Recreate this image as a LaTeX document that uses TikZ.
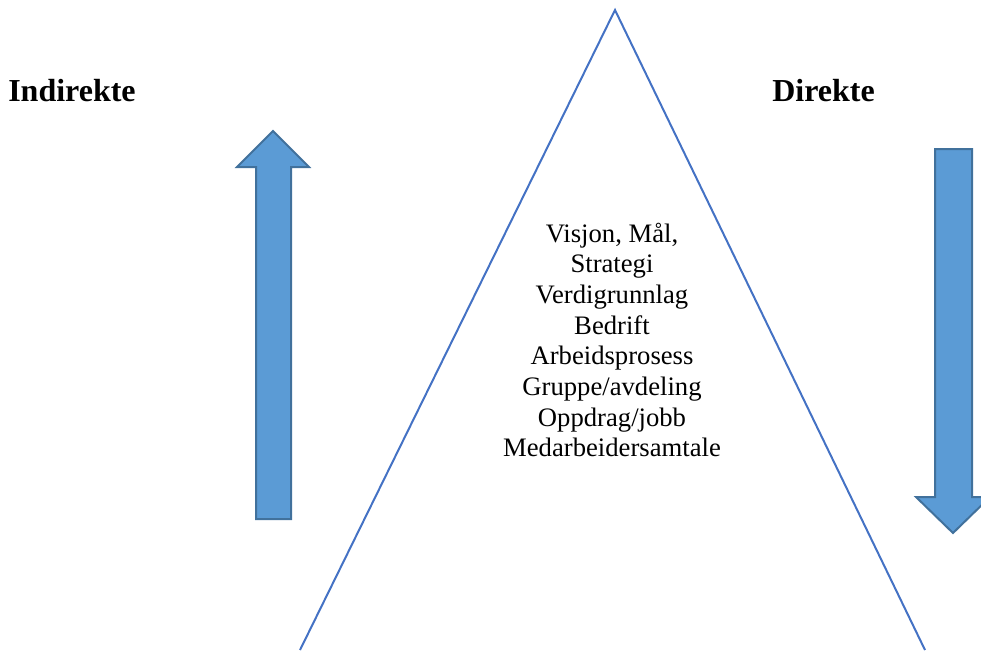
\documentclass[tikz,border=0pt]{standalone}
\usepackage{fontspec}
\setmainfont{Liberation Serif}
\usetikzlibrary{positioning}
\definecolor{arrowfill}{HTML}{5B9BD5}
\definecolor{arrowline}{HTML}{41719C}
\definecolor{peakline}{HTML}{4472C4}

\begin{document}
\begin{tikzpicture}[
    x=0.75pt, y=-0.75pt,
    bigarrow/.style={fill=arrowfill, draw=arrowline, line width=1.5pt, line join=miter},
    side/.style={font=\bfseries\fontsize{24}{29}\selectfont, inner sep=0pt, anchor=base west},
    levels/.style={align=center, font=\fontsize{20}{23}\selectfont, inner sep=0pt}
]
    \useasboundingbox (0,0) rectangle (981,650);
    \clip (0,0) rectangle (981,650);

    % Triangle
    \coordinate (apex) at (615,10);
    \draw[peakline, line width=1.5pt] (300,650) -- (apex) -- (925,650);

    % Side labels
    \node[side] (indirekte) at (8,101) {Indirekte};
    \node[side] (direkte) at (772,101) {Direkte};

    % Arrows
    \draw[bigarrow] (256,519) -- (256,167) -- (237,167) -- (273,131)
        -- (309,167) -- (291,167) -- (291,519) -- cycle;
    \draw[bigarrow] (935,149) -- (935,497) -- (916,497) -- (953,533)
        -- (990,497) -- (972,497) -- (972,149) -- cycle;

    % Levels
    \node[levels] (levels) at (612,340) {Visjon, Mål,\\Strategi\\Verdigrunnlag\\Bedrift\\Arbeidsprosess\\Gruppe/avdeling\\Oppdrag/jobb\\Medarbeidersamtale};
\end{tikzpicture}
\end{document}
